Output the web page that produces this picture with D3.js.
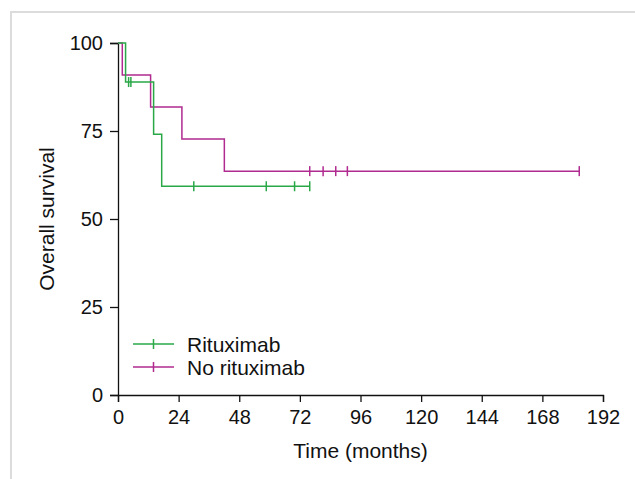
<!DOCTYPE html>
<html>
<head>
<meta charset="utf-8">
<script src="https://cdn.jsdelivr.net/npm/d3@7"></script>
<style>
  body { margin: 0; background: #fff; }
  text { font-family: "Liberation Sans", Arial, sans-serif; fill: #111; }
</style>
</head>
<body>
<div id="chart"></div>
<script>
// series: step times (months) and survival (%) after each step
const ritTimes = [0, 3.0, 14.1, 17.3];
const ritSurv = [100, 88.9, 74.1, 59.3];
const ritCensor = [4.2, 5.1, 30.0, 58.7, 69.9, 75.9];
const ritEnd = 75.9;

const noTimes = [0, 1.7, 12.9, 25.3, 42.1];
const noSurv = [100, 90.9, 81.8, 72.7, 63.6];
const noCensor = [75.9, 81.2, 86.2, 90.8, 182.6];
const noEnd = 182.6;

const xTicks = [0, 24, 48, 72, 96, 120, 144, 168, 192];
const yTicks = [0, 25, 50, 75, 100];
const seriesNames = ['Rituximab', 'No rituximab'];
const colors = ['#2aa847', '#b02a90'];

const W = 635, H = 479;
const margin = {top: 43, right: 32, bottom: 84, left: 118};
const width = W - margin.left - margin.right;
const height = H - margin.top - margin.bottom;

const root = d3.select('#chart').append('svg')
    .attr('width', W)
    .attr('height', H);

// light frame
root.append('path')
    .attr('d', 'M11,' + H + 'V12H' + W)
    .attr('fill', 'none')
    .attr('stroke', '#dcdcdc')
    .attr('stroke-width', 2);

const svg = root.append('g')
    .attr('transform', 'translate(' + margin.left + ',' + margin.top + ')');

const x = d3.scaleLinear().domain([0, 192]).range([0, width]);
const y = d3.scaleLinear().domain([0, 100]).range([height, 0]);

const xAxis = d3.axisBottom(x).tickValues(xTicks).tickSize(7).tickPadding(8);
const yAxis = d3.axisLeft(y).tickValues(yTicks).tickSize(8).tickPadding(7);

svg.append('g')
    .attr('class', 'axis')
    .attr('transform', 'translate(0,' + height + ')')
    .call(xAxis);

svg.append('g')
    .attr('class', 'axis')
    .call(yAxis);

svg.selectAll('.axis path, .axis line')
    .attr('stroke', '#111')
    .attr('stroke-width', 1.3);
svg.selectAll('.axis text')
    .attr('font-size', 20)
    .attr('fill', '#111');

svg.append('text')
    .attr('x', width / 2)
    .attr('y', height + 63)
    .attr('text-anchor', 'middle')
    .attr('font-size', 21)
    .text('Time (months)');

svg.append('text')
    .attr('transform', 'translate(' + (-64) + ',' + (height / 2) + ') rotate(-90)')
    .attr('text-anchor', 'middle')
    .attr('font-size', 21)
    .text('Overall survival');

function stepPoints(times, surv, end) {
    const pts = times.map((t, i) => [t, surv[i]]);
    pts.push([end, surv[surv.length - 1]]);
    return pts;
}

function survAt(times, surv, t) {
    let s = surv[0];
    times.forEach((tt, i) => { if (tt <= t) s = surv[i]; });
    return s;
}

const line = d3.line()
    .x(d => x(d[0]))
    .y(d => y(d[1]))
    .curve(d3.curveStepAfter);

const series = [
    {times: ritTimes, surv: ritSurv, censor: ritCensor, end: ritEnd},
    {times: noTimes, surv: noSurv, censor: noCensor, end: noEnd}
];

// draw no-rituximab first so green sits on top where they overlap
[1, 0].forEach(k => {
    const s = series[k];
    svg.append('path')
        .datum(stepPoints(s.times, s.surv, s.end))
        .attr('fill', 'none')
        .attr('stroke', colors[k])
        .attr('stroke-width', 1.5)
        .attr('d', line);

    svg.selectAll('.c' + k)
        .data(s.censor)
        .enter().append('line')
        .attr('x1', d => x(d))
        .attr('x2', d => x(d))
        .attr('y1', d => y(survAt(s.times, s.surv, d)) - 5)
        .attr('y2', d => y(survAt(s.times, s.surv, d)) + 5)
        .attr('stroke', colors[k])
        .attr('stroke-width', 1.5);
});

// legend
const legend = svg.append('g')
    .attr('transform', 'translate(15,' + (height - 51) + ')');

seriesNames.forEach((name, i) => {
    const g = legend.append('g').attr('transform', 'translate(0,' + (i * 23) + ')');
    g.append('line')
        .attr('x1', 0).attr('x2', 41)
        .attr('stroke', colors[i]).attr('stroke-width', 1.5);
    g.append('line')
        .attr('x1', 20.5).attr('x2', 20.5)
        .attr('y1', -5).attr('y2', 5)
        .attr('stroke', colors[i]).attr('stroke-width', 1.5);
    g.append('text')
        .attr('x', 54)
        .attr('y', 7.5)
        .attr('font-size', 21)
        .text(name);
});
</script>
</body>
</html>
